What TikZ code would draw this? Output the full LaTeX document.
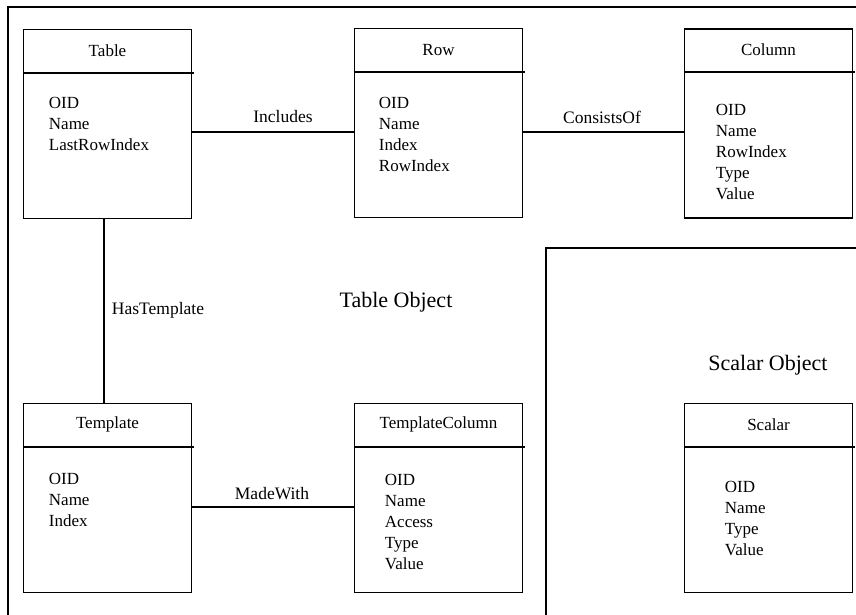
\documentclass[tikz,border=0pt]{standalone}
\usepackage{fontspec}
\setmainfont{Liberation Serif}
\usetikzlibrary{calc}
\begin{document}
\begin{tikzpicture}[x=1pt,y=-1pt,
  line width=1.9pt,
  classbox/.style={draw, rectangle, inner sep=0pt, minimum width=168pt, minimum height=189pt},
  classname/.style={inner sep=0pt, font=\fontsize{17}{20}\selectfont},
  attrs/.style={inner sep=0pt, anchor=north west, align=left, font=\fontsize{17}{21}\selectfont},
  rellabel/.style={inner sep=0pt, font=\fontsize{17.5}{20}\selectfont},
  regionlabel/.style={inner sep=0pt, font=\fontsize{22}{26}\selectfont}]
  \useasboundingbox (0,0) rectangle (856,614);
  \clip (0,0) rectangle (856,614);

  % enclosing regions
  \draw (8,7) rectangle (880,640);
  \draw (546,248) rectangle (880,640);
  \node[regionlabel] (tableobj) at (396,302) {Table Object};
  \node[regionlabel] (scalarobj) at (768,365) {Scalar Object};

  % class boxes
  \node[classbox] (table) at (107.5,124) {};
  \node[classbox] (row) at (438.5,123) {};
  \node[classbox] (column) at (768.5,123.5) {};
  \node[classbox] (template) at (107.5,498) {};
  \node[classbox] (tcolumn) at (438.5,498) {};
  \node[classbox] (scalar) at (768.5,498) {};

  % header dividers and class names
  \foreach \b/\t in {table/Table, row/Row, column/Column, template/Template, tcolumn/TemplateColumn, scalar/Scalar}{
    \draw ($(\b.north west)+(0,44)$) -- ($(\b.north east)+(2,44)$);
    \node[classname] (\b-name) at ($(\b.north)+(0,22)$) {\t};
  }

  % attributes
  \node[attrs] (table-attrs) at (48,96) {OID\\Name\\LastRowIndex};
  \node[attrs] (row-attrs) at (378,96) {OID\\Name\\Index\\RowIndex};
  \node[attrs] (column-attrs) at (715,103) {OID\\Name\\RowIndex\\Type\\Value};
  \node[attrs] (template-attrs) at (48,472) {OID\\Name\\Index};
  \node[attrs] (tcolumn-attrs) at (384,473) {OID\\Name\\Access\\Type\\Value};
  \node[attrs] (scalar-attrs) at (724,480) {OID\\Name\\Type\\Value};

  % associations
  \draw ([yshift=-8pt]table.east) -- ([yshift=-9pt]row.west);
  \draw ([yshift=-9pt]row.east) -- ([yshift=-8.5pt]column.west);
  \draw ([xshift=-3.5pt]table.south) -- ([xshift=-3.5pt]template.north);
  \draw ([yshift=-9pt]template.east) -- ([yshift=-9pt]tcolumn.west);

  \node[rellabel] (includes) at (283,117) {Includes};
  \node[rellabel] (consistsof) at (602,117) {ConsistsOf};
  \node[rellabel] (hastemplate) at (158,310) {HasTemplate};
  \node[rellabel] (madewith) at (272,494) {MadeWith};
\end{tikzpicture}
\end{document}
